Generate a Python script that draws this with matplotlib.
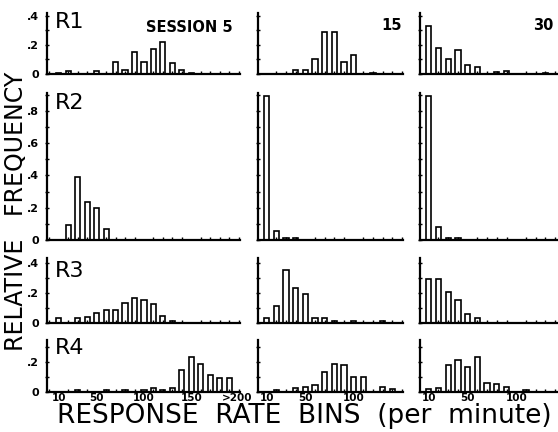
import matplotlib
matplotlib.use('Agg')
import matplotlib.pyplot as plt
from matplotlib.ticker import MultipleLocator, FuncFormatter

# Relative frequency of response-rate bins (per minute)
# columns: session 5, session 15, session 30 ; rows: R1..R4
sessions = ['SESSION 5', '15', '30']
responses = ['R1', 'R2', 'R3', 'R4']

r1_s5_bins = [10, 20, 50, 70, 80, 90, 100, 110, 120, 130, 140, 150]
r1_s5_freq = [0.01, 0.02, 0.02, 0.08, 0.025, 0.15, 0.08, 0.17, 0.22, 0.075, 0.03, 0.01]
r1_s15_bins = [40, 50, 60, 70, 80, 90, 100, 120]
r1_s15_freq = [0.03, 0.03, 0.10, 0.29, 0.29, 0.08, 0.13, 0.01]
r1_s30_bins = [10, 20, 30, 40, 50, 60, 80, 90, 130]
r1_s30_freq = [0.33, 0.18, 0.10, 0.165, 0.06, 0.05, 0.015, 0.02, 0.01]

r2_s5_bins = [20, 30, 40, 50, 60]
r2_s5_freq = [0.09, 0.39, 0.235, 0.20, 0.07]
r2_s15_bins = [10, 20, 30, 40]
r2_s15_freq = [0.89, 0.057, 0.01, 0.01]
r2_s30_bins = [10, 20, 30, 40]
r2_s30_freq = [0.89, 0.08, 0.01, 0.01]

r3_s5_bins = [10, 30, 40, 50, 60, 70, 80, 90, 100, 110, 120, 130]
r3_s5_freq = [0.035, 0.035, 0.04, 0.066, 0.088, 0.088, 0.13, 0.165, 0.15, 0.127, 0.044, 0.015]
r3_s15_bins = [10, 20, 30, 40, 50, 60, 70, 80, 100, 130]
r3_s15_freq = [0.03, 0.11, 0.35, 0.23, 0.19, 0.035, 0.035, 0.015, 0.015, 0.015]
r3_s30_bins = [10, 20, 30, 40, 50, 60]
r3_s30_freq = [0.29, 0.29, 0.205, 0.155, 0.06, 0.033]

r4_s5_bins = [30, 60, 80, 100, 110, 120, 130, 140, 150, 160, 170, 180, 190]
r4_s5_freq = [0.01, 0.01, 0.01, 0.01, 0.027, 0.015, 0.027, 0.147, 0.23, 0.187, 0.113, 0.093, 0.093]
r4_s15_bins = [20, 40, 50, 60, 70, 80, 90, 100, 110, 130, 140]
r4_s15_freq = [0.01, 0.025, 0.03, 0.045, 0.13, 0.185, 0.18, 0.10, 0.10, 0.03, 0.02]
r4_s30_bins = [10, 20, 30, 40, 50, 60, 70, 80, 90, 110]
r4_s30_freq = [0.02, 0.025, 0.18, 0.21, 0.165, 0.23, 0.06, 0.05, 0.03, 0.01]

tick_pos_s5 = [10, 50, 100, 150, 198]
tick_lab_s5 = ['10', '50', '100', '150', '>200']
tick_pos_late = [10, 50, 100]
tick_lab_late = ['10', '50', '100']

panels = [
    [(r1_s5_bins, r1_s5_freq), (r1_s15_bins, r1_s15_freq), (r1_s30_bins, r1_s30_freq)],
    [(r2_s5_bins, r2_s5_freq), (r2_s15_bins, r2_s15_freq), (r2_s30_bins, r2_s30_freq)],
    [(r3_s5_bins, r3_s5_freq), (r3_s15_bins, r3_s15_freq), (r3_s30_bins, r3_s30_freq)],
    [(r4_s5_bins, r4_s5_freq), (r4_s15_bins, r4_s15_freq), (r4_s30_bins, r4_s30_freq)],
]

W, H = 558, 432
fig = plt.figure(figsize=(W / 100, H / 100), dpi=100)

# panel placement in pixels
col_px = [(47, 240), (258, 403), (420, 560)]
col_xlim = [(-2.5, 201.5), (1, 151), (1, 145)]
row_px = [(13, 74), (93, 240), (258, 323), (340, 392)]
row_ytop = [0.42, 0.91, 0.43, 0.345]

fmt = FuncFormatter(lambda v, p: '0' if abs(v) < 1e-9 else ('%.1f' % v).lstrip('0'))

for r in range(4):
    for c in range(3):
        x0, x1 = col_px[c]
        ytop, ybot = row_px[r]
        ax = fig.add_axes([x0 / W, 1 - ybot / H, (x1 - x0) / W, (ybot - ytop) / H])
        bins, freq = panels[r][c]
        ax.bar(bins, freq, width=5.5, facecolor='white', edgecolor='black', linewidth=1.2)
        ax.set_xlim(*col_xlim[c])
        ax.set_ylim(0, row_ytop[r])
        ax.patch.set_alpha(0)
        for s in ['top', 'right']:
            ax.spines[s].set_visible(False)
        for s in ['left', 'bottom']:
            ax.spines[s].set_linewidth(1.6)

        ax.yaxis.set_major_locator(MultipleLocator(0.2))
        ax.yaxis.set_minor_locator(MultipleLocator(0.1))
        ax.tick_params(axis='y', which='both', direction='inout', length=3, width=1)
        if c == 0:
            ax.yaxis.set_major_formatter(fmt)
            ax.tick_params(axis='y', labelsize=8, pad=4)
            for t in ax.get_yticklabels():
                t.set_fontweight('bold')
        else:
            ax.tick_params(axis='y', labelleft=False)

        ax.xaxis.set_minor_locator(MultipleLocator(10))
        ax.tick_params(axis='x', which='minor', direction='in', length=2.5, width=1)
        if c == 0:
            ax.set_xticks(tick_pos_s5)
            ax.set_xticklabels(tick_lab_s5)
        else:
            ax.set_xticks(tick_pos_late)
            ax.set_xticklabels(tick_lab_late)
        ax.tick_params(axis='x', which='major', length=0, pad=1, labelsize=7.5)
        if r < 3:
            ax.tick_params(axis='x', labelbottom=False)
        else:
            for t in ax.get_xticklabels():
                t.set_fontweight('bold')

# row labels and session headers
row_label_y = [12, 93, 261, 338]
for r in range(4):
    fig.text(55 / W, 1 - row_label_y[r] / H, responses[r], fontsize=16, va='top', ha='left')

fig.text(189 / W, 1 - 27 / H, sessions[0], fontsize=10.5, fontweight='bold', ha='center', va='center')
fig.text(392 / W, 1 - 26 / H, sessions[1], fontsize=10.5, fontweight='bold', ha='center', va='center')
fig.text(543 / W, 1 - 26 / H, sessions[2], fontsize=10.5, fontweight='bold', ha='center', va='center')

fig.text(16 / W, 1 - 211 / H, 'RELATIVE   FREQUENCY', fontsize=17, rotation=90,
         ha='center', va='center')
fig.text(304 / W, 1 - 423 / H, 'RESPONSE  RATE  BINS  (per  minute)', fontsize=19,
         ha='center', va='baseline')

fig.savefig('out.png', dpi=100)
